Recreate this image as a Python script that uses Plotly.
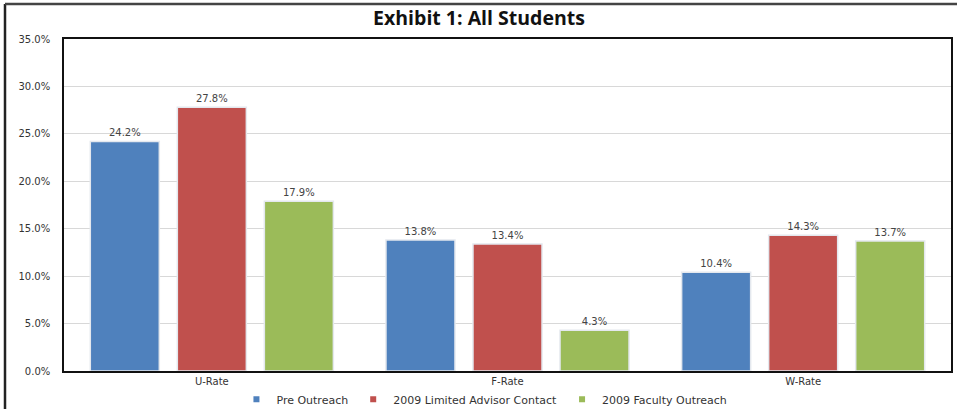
import plotly.graph_objects as go

categories = ["U-Rate", "F-Rate", "W-Rate"]
series_names = ["Pre Outreach", "2009 Limited Advisor Contact", "2009 Faculty Outreach"]
pre_outreach = [24.2, 13.8, 10.4]
limited_advisor = [27.8, 13.4, 14.3]
faculty_outreach = [17.9, 4.3, 13.7]
colors = ["#4F81BD", "#C0504D", "#9BBB59"]
y_ticks = [0, 5, 10, 15, 20, 25, 30, 35]
y_tick_labels = [f"{v:.1f}%" for v in y_ticks]

FONT = "DejaVu Sans"
fig = go.Figure()
for name, vals, col in zip(series_names, [pre_outreach, limited_advisor, faculty_outreach], colors):
    fig.add_trace(go.Bar(
        x=categories, y=vals, name=name, showlegend=False,
        marker=dict(color=col, line=dict(color="#E4E8EE", width=1.5)),
        text=[f"{v:.1f}%" for v in vals], textposition="outside",
        textfont=dict(family=FONT, size=10, color="#444"),
        cliponaxis=False,
    ))
# legend entries with small square swatches
for name, col in zip(series_names, colors):
    fig.add_trace(go.Scatter(
        x=[None], y=[None], mode="markers", name=name,
        marker=dict(symbol="square", size=6, color=col),
    ))

L, R, T, B = 64, 7, 39, 39
W, H = 958, 410
pw, ph = W - L - R, H - T - B

fig.update_layout(
    width=W, height=H,
    margin=dict(l=L, r=R, t=T, b=B, autoexpand=False),
    paper_bgcolor="white", plot_bgcolor="white",
    barmode="group", bargap=0.117, bargroupgap=0.207,
    title=dict(text="<b>Exhibit 1: All Students</b>", x=0.5, xanchor="center",
               y=1 - 18 / H, yanchor="middle",
               font=dict(family="Open Sans", size=19.5, color="#111")),
    showlegend=True,
    legend=dict(orientation="h", x=0.474, xanchor="center", y=-0.085, yanchor="middle",
                bgcolor="rgba(0,0,0,0)",
                font=dict(family=FONT, size=11, color="#333"),
                itemwidth=30, tracegroupgap=0),
    xaxis=dict(showline=True, linecolor="#111", linewidth=1.5, mirror=True,
               tickfont=dict(family=FONT, size=10, color="#333"),
               ticks="", automargin=False),
    yaxis=dict(range=[0, 35], tickvals=y_ticks, ticktext=y_tick_labels,
               showgrid=True, gridcolor="#D8D8D8", gridwidth=1,
               showline=True, linecolor="#111", linewidth=1.5, mirror=True,
               tickfont=dict(family=FONT, size=10, color="#333"),
               ticks="", zeroline=False, automargin=False, ticklabelstandoff=10),
)

# outer chart frame (left and top edges visible)
x0 = (5 - L) / pw
x1 = (957 - L) / pw
ytop = (H - B - 4) / ph
ybot = (H - B - 409) / ph
fig.add_shape(type="line", xref="paper", yref="paper", x0=x0, x1=x0, y0=ybot, y1=ytop,
              line=dict(color="#222", width=2.5))
fig.add_shape(type="line", xref="paper", yref="paper", x0=x0, x1=x1, y0=ytop, y1=ytop,
              line=dict(color="#444", width=2.5))

fig.write_html("out.html", config={"displayModeBar": False},
               post_script="document.body.style.margin='0';")
